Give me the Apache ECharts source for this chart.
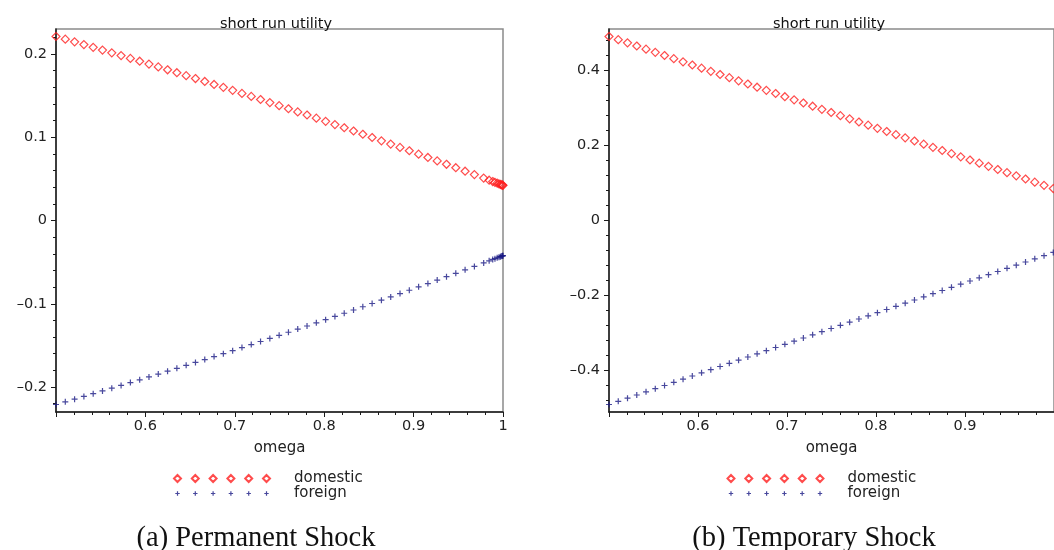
<!DOCTYPE html>
<html>
<head>
<meta charset="utf-8">
<script src="https://cdn.jsdelivr.net/npm/echarts@6/dist/echarts.min.js"></script>
<style>
html,body{margin:0;padding:0;background:#fff;}
#chart{width:1054px;height:550px;}
</style>
</head>
<body>
<div id="chart"></div>
<script>
// ---- data ----
const omegaLeft = [0.5, 0.5104, 0.5208, 0.5312, 0.5416, 0.552, 0.5624, 0.5728, 0.5832, 0.5936,
  0.604, 0.6144, 0.6248, 0.6352, 0.6456, 0.656, 0.6664, 0.6768, 0.6872, 0.6976,
  0.708, 0.7184, 0.7288, 0.7392, 0.7496, 0.76, 0.7704, 0.7808, 0.7912, 0.8016,
  0.812, 0.8224, 0.8328, 0.8432, 0.8536, 0.864, 0.8744, 0.8848, 0.8952, 0.9056,
  0.916, 0.9264, 0.9368, 0.9472, 0.9576, 0.968, 0.9784,
  0.9845, 0.9885, 0.991, 0.9935, 0.9955, 0.997, 0.998, 0.999, 0.9995, 1.0];
const domesticLeft = [0.2210, 0.2178, 0.2146, 0.2113, 0.2080, 0.2047, 0.2014, 0.1981, 0.1947, 0.1913,
  0.1879, 0.1845, 0.1810, 0.1775, 0.1740, 0.1705, 0.1670, 0.1634, 0.1599, 0.1563,
  0.1526, 0.1490, 0.1453, 0.1416, 0.1379, 0.1342, 0.1304, 0.1267, 0.1229, 0.1191,
  0.1152, 0.1114, 0.1075, 0.1036, 0.0997, 0.0957, 0.0918, 0.0878, 0.0838, 0.0797,
  0.0757, 0.0716, 0.0675, 0.0634, 0.0592, 0.0551, 0.0509,
  0.0484, 0.0468, 0.0458, 0.0448, 0.0440, 0.0434, 0.0430, 0.0426, 0.0424, 0.0422];
const foreignLeft = [-0.2210, -0.2178, -0.2146, -0.2113, -0.2080, -0.2047, -0.2014, -0.1981, -0.1947, -0.1913,
  -0.1879, -0.1845, -0.1810, -0.1775, -0.1740, -0.1705, -0.1670, -0.1634, -0.1599, -0.1563,
  -0.1526, -0.1490, -0.1453, -0.1416, -0.1379, -0.1342, -0.1304, -0.1267, -0.1229, -0.1191,
  -0.1152, -0.1114, -0.1075, -0.1036, -0.0997, -0.0957, -0.0918, -0.0878, -0.0838, -0.0797,
  -0.0757, -0.0716, -0.0675, -0.0634, -0.0592, -0.0551, -0.0509,
  -0.0484, -0.0468, -0.0458, -0.0448, -0.0440, -0.0434, -0.0430, -0.0426, -0.0424, -0.0422];

const omegaRight = [0.5, 0.5104, 0.5208, 0.5312, 0.5416, 0.552, 0.5624, 0.5728, 0.5832, 0.5936,
  0.604, 0.6144, 0.6248, 0.6352, 0.6456, 0.656, 0.6664, 0.6768, 0.6872, 0.6976,
  0.708, 0.7184, 0.7288, 0.7392, 0.7496, 0.76, 0.7704, 0.7808, 0.7912, 0.8016,
  0.812, 0.8224, 0.8328, 0.8432, 0.8536, 0.864, 0.8744, 0.8848, 0.8952, 0.9056,
  0.916, 0.9264, 0.9368, 0.9472, 0.9576, 0.968, 0.9784, 0.9888, 0.9992];
const domesticRight = [0.4900, 0.4816, 0.4731, 0.4647, 0.4563, 0.4478, 0.4394, 0.4310, 0.4225, 0.4141,
  0.4057, 0.3972, 0.3888, 0.3804, 0.3719, 0.3635, 0.3550, 0.3466, 0.3382, 0.3297,
  0.3213, 0.3129, 0.3044, 0.2960, 0.2876, 0.2791, 0.2707, 0.2623, 0.2538, 0.2454,
  0.2370, 0.2285, 0.2201, 0.2117, 0.2032, 0.1948, 0.1864, 0.1779, 0.1695, 0.1611,
  0.1526, 0.1442, 0.1358, 0.1273, 0.1189, 0.1105, 0.1020, 0.0936, 0.0851];
const foreignRight = [-0.4900, -0.4816, -0.4731, -0.4647, -0.4563, -0.4478, -0.4394, -0.4310, -0.4225, -0.4141,
  -0.4057, -0.3972, -0.3888, -0.3804, -0.3719, -0.3635, -0.3550, -0.3466, -0.3382, -0.3297,
  -0.3213, -0.3129, -0.3044, -0.2960, -0.2876, -0.2791, -0.2707, -0.2623, -0.2538, -0.2454,
  -0.2370, -0.2285, -0.2201, -0.2117, -0.2032, -0.1948, -0.1864, -0.1779, -0.1695, -0.1611,
  -0.1526, -0.1442, -0.1358, -0.1273, -0.1189, -0.1105, -0.1020, -0.0936, -0.0851];

// tick values
const yTicksLeft = [-0.2, -0.1, 0, 0.1, 0.2];
const yMinorLeft = [-0.22, -0.18, -0.16, -0.14, -0.12, -0.08, -0.06, -0.04, -0.02,
  0.02, 0.04, 0.06, 0.08, 0.12, 0.14, 0.16, 0.18, 0.22];
const yTicksRight = [-0.4, -0.2, 0, 0.2, 0.4];
const yMinorRight = [-0.48, -0.44, -0.36, -0.32, -0.28, -0.24, -0.16, -0.12, -0.08, -0.04,
  0.04, 0.08, 0.12, 0.16, 0.24, 0.28, 0.32, 0.36, 0.44, 0.48];

const titleText = 'short run utility';
const xName = 'omega';
const seriesNames = ['domestic', 'foreign'];
const captions = ['(a) Permanent Shock', '(b) Temporary Shock'];

// ---- styles ----
const SANS = '"DejaVu Sans", sans-serif';
const RED = '#ff1f1f';
const BLUE = '#1a1a85';
const AXIS = '#1a1a1a';
const crossSymbol = 'path://M2.4,0H3.6V2.4H6V3.6H3.6V6H2.4V3.6H0V2.4H2.4Z';

function diamondsIcon() {
  let p = '';
  for (let k = 0; k < 6; k++) {
    const cx = 3.5 + 17.8 * k;
    p += 'M' + cx + ',0L' + (cx + 3.5) + ',3.5L' + cx + ',7L' + (cx - 3.5) + ',3.5Z';
  }
  return 'path://' + p;
}
function crossesIcon() {
  let p = 'M0,3.5L0,3.5M96,3.5L96,3.5';
  for (let k = 0; k < 6; k++) {
    const cx = 3.5 + 17.8 * k, cy = 3.5;
    p += 'M' + (cx - 0.6) + ',' + (cy - 2.2) + 'H' + (cx + 0.6) + 'V' + (cy - 0.6) + 'H' + (cx + 2.2) +
      'V' + (cy + 0.6) + 'H' + (cx + 0.6) + 'V' + (cy + 2.2) + 'H' + (cx - 0.6) + 'V' + (cy + 0.6) +
      'H' + (cx - 2.2) + 'V' + (cy - 0.6) + 'H' + (cx - 0.6) + 'Z';
  }
  return 'path://' + p;
}

function fmt(v) {
  if (Math.abs(v) < 1e-9) return '0';
  let s = (Math.round(v * 10) / 10).toString();
  return s.replace('-', '\u2013');
}

function xAxisCfg(gridIndex, showMax) {
  return {
    type: 'value', gridIndex: gridIndex, min: 0.5, max: 1, interval: 0.1,
    name: xName, nameLocation: 'middle', nameGap: 29,
    nameTextStyle: {fontFamily: SANS, fontSize: 15, color: '#222'},
    axisLine: {show: true, onZero: false, lineStyle: {color: AXIS, width: 1.5}},
    axisTick: {show: true, length: 5, lineStyle: {color: AXIS, width: 1}},
    minorTick: {show: true, splitNumber: 5, length: 3, lineStyle: {color: AXIS, width: 1}},
    axisLabel: {showMinLabel: false, showMaxLabel: showMax, margin: 7,
      fontFamily: SANS, fontSize: 14.5, color: '#222', formatter: fmt},
    splitLine: {show: false}, minorSplitLine: {show: false}
  };
}
function yAxisCfg(gridIndex, lim, major, minor) {
  return [{
    type: 'value', gridIndex: gridIndex, position: 'left', min: -lim, max: lim,
    axisLine: {show: true, onZero: false, lineStyle: {color: AXIS, width: 1.5}},
    axisTick: {show: true, length: 5, customValues: major, lineStyle: {color: AXIS, width: 1}},
    axisLabel: {customValues: major, margin: 9, fontFamily: SANS, fontSize: 14.5, color: '#222', formatter: fmt},
    splitLine: {show: false}
  }, {
    type: 'value', gridIndex: gridIndex, position: 'left', offset: 0, min: -lim, max: lim,
    axisLine: {show: false, onZero: false},
    axisTick: {show: true, length: 3, customValues: minor, lineStyle: {color: AXIS, width: 1}},
    axisLabel: {show: false},
    splitLine: {show: false}
  }];
}
function legendCfg(left) {
  return {
    left: left, top: 466, orient: 'vertical', itemGap: 0, itemWidth: 96, itemHeight: 7,
    selectedMode: false,
    data: [{name: seriesNames[0], icon: diamondsIcon()}, {name: seriesNames[1], icon: crossesIcon()}],
    textStyle: {fontFamily: SANS, fontSize: 15, color: '#222', lineHeight: 15, padding: [0, 0, 0, 19]}
  };
}
function pairs(xs, ys) { return xs.map((x, i) => [x, ys[i]]); }
function domSeries(name, xi, yi, data) {
  return {name: name, type: 'scatter', xAxisIndex: xi, yAxisIndex: yi, data: data,
    symbol: 'diamond', symbolSize: 8, silent: true,
    itemStyle: {color: 'rgba(0,0,0,0)', borderColor: RED, borderWidth: 1.2}};
}
function forSeries(name, xi, yi, data) {
  return {name: name, type: 'scatter', xAxisIndex: xi, yAxisIndex: yi, data: data,
    symbol: crossSymbol, symbolSize: 6, silent: true,
    itemStyle: {color: BLUE}};
}

const chart = echarts.init(document.getElementById('chart'), null, {renderer: 'canvas'});
chart.setOption({
  backgroundColor: '#fff',
  animation: false,
  title: [
    {text: titleText, left: 271, top: 12, textAlign: 'center',
      textStyle: {fontFamily: SANS, fontSize: 14.5, fontWeight: 'normal', color: '#111'}},
    {text: titleText, left: 824, top: 12, textAlign: 'center',
      textStyle: {fontFamily: SANS, fontSize: 14.5, fontWeight: 'normal', color: '#111'}},
    {text: captions[0], left: 251, top: 519, textAlign: 'center',
      textStyle: {fontFamily: '"Liberation Serif", serif', fontSize: 28.5, fontWeight: 'normal', color: '#111'}},
    {text: captions[1], left: 809, top: 519, textAlign: 'center',
      textStyle: {fontFamily: '"Liberation Serif", serif', fontSize: 28.5, fontWeight: 'normal', color: '#111'}}
  ],
  legend: [legendCfg(168), legendCfg(721.5)],
  grid: [
    {left: 56, top: 29, width: 447, height: 383, show: true, borderColor: '#8a8a8a', borderWidth: 1.5, backgroundColor: 'transparent', containLabel: false},
    {left: 609, top: 29, width: 447, height: 383, show: true, borderColor: '#8a8a8a', borderWidth: 1.5, backgroundColor: 'transparent', containLabel: false}
  ],
  xAxis: [xAxisCfg(0, true), xAxisCfg(1, false)],
  yAxis: [].concat(yAxisCfg(0, 0.23, yTicksLeft, yMinorLeft), yAxisCfg(1, 0.51, yTicksRight, yMinorRight)),
  series: [
    domSeries(seriesNames[0], 0, 0, pairs(omegaLeft, domesticLeft)),
    forSeries(seriesNames[1], 0, 0, pairs(omegaLeft, foreignLeft)),
    domSeries(seriesNames[0], 1, 2, pairs(omegaRight, domesticRight)),
    forSeries(seriesNames[1], 1, 2, pairs(omegaRight, foreignRight))
  ]
});
</script>
</body>
</html>
